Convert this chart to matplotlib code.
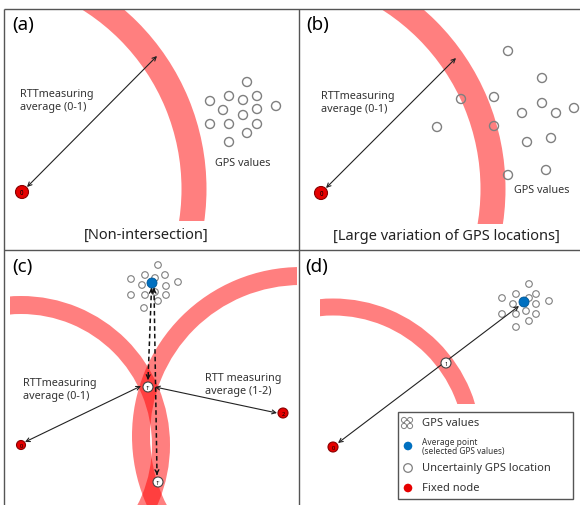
import numpy as np
import matplotlib
matplotlib.use("Agg")
import matplotlib.pyplot as plt
from matplotlib.patches import Circle, Wedge, Rectangle

plt.rcParams['font.family'] = ['Noto Sans', 'DejaVu Sans']

# everything is laid out in pixel units (x right, y down)
W, H = 580, 506

# frame lines: (x0, y0, x1, y1)
frame_lines = [(4, 10, 580, 10), (4, 10, 4, 506), (299, 10, 299, 506), (4, 251, 580, 251)]

panel_tags = ['(a)', '(b)', '(c)', '(d)']
panel_tag_xy = [(12, 25), (306, 25), (12, 267), (305, 267)]

# RTT bands: centre, mid radius, width, clip box (x0, y0, x1, y1)
ring_centres = [(-30, 190), (268, 190), (21, 446), (301, 437), (333, 448)]
ring_radii = [224, 225, 140, 160, 140]
ring_widths = [25, 25, 18, 18, 17]
ring_clips = [(4, 11, 299, 222), (299, 11, 580, 225), (10, 252, 297, 506),
              (10, 252, 297, 506), (320, 252, 580, 405)]

# GPS samples
gps_a = [(247, 83), (210, 102), (229, 97), (243, 101), (257, 97), (276, 107), (223, 111),
         (257, 110), (243, 116), (210, 125), (229, 125), (257, 125), (247, 134), (229, 143)]
gps_b = [(508, 52), (542, 79), (461, 100), (494, 98), (522, 114), (542, 104), (556, 114),
         (574, 109), (437, 128), (494, 127), (527, 143), (551, 139), (508, 176), (546, 171)]
gps_c = [(158, 266), (145, 276), (155, 279), (165, 276), (131, 280), (178, 283), (142, 286),
         (166, 287), (131, 296), (145, 296), (155, 293), (166, 296), (158, 302), (144, 309)]
gps_d = [(529, 285), (502, 299), (516, 295), (529, 299), (536, 295), (536, 305), (549, 302),
         (513, 305), (502, 315), (516, 315), (526, 312), (536, 315), (529, 322), (516, 328)]

avg_points = [(152, 284), (524, 303)]

# nodes: position, radius, label, fill
node_xy = [(22, 193), (321, 194), (21, 446), (283, 414), (333, 448),
           (148, 388), (158, 483), (446, 364)]
node_r = [6.5, 6.5, 4.5, 5, 5, 5, 5, 5]
node_lbl = ['0', '0', '0', '2', '0', "1'", "1'", '1']
node_fill = ['#e60000'] * 5 + ['white'] * 3

# solid two-headed arrows
arrows = [((27, 188), (157, 57)), ((326, 189), (456, 59)),
          ((141, 387), (25, 443)), ((155, 388), (277, 414)),
          ((338, 444), (519, 307))]
# dashed two-headed arrows
dashed = [((151.5, 289), (148, 381)), ((154, 289), (157, 476))]

rtt_text = ['RTTmeasuring\naverage (0-1)', 'RTTmeasuring\naverage (0-1)',
            'RTTmeasuring\naverage (0-1)', 'RTT measuring\naverage (1-2)']
rtt_xy = [(20, 101), (321, 103), (23, 390), (205, 385)]

gps_lbl_xy = [(215, 163), (514, 190)]
captions = ['[Non-intersection]', '[Large variation of GPS locations]']
caption_xy = [(146, 235), (446, 237)]

legend_box = (398, 413, 573, 500)
legend_y = [424, 447, 469, 489]
legend_lbl = ['GPS values', None, 'Uncertainly GPS location', 'Fixed node']

ink = '#333333'

fig = plt.figure(figsize=(W / 100, H / 100), dpi=100)
ax = fig.add_axes([0, 0, 1, 1])
ax.set_xlim(0, W)
ax.set_ylim(H, 0)
ax.axis('off')

for x0, y0, x1, y1 in frame_lines:
    ax.plot([x0, x1], [y0, y1], color='#555555', lw=1.0, solid_capstyle='butt')

for (cx, cy), r, w, (x0, y0, x1, y1) in zip(ring_centres, ring_radii, ring_widths, ring_clips):
    band = Wedge((cx, cy), r + w / 2, 0, 360, width=w, facecolor=(1, 0, 0, 0.5),
                 edgecolor='none', zorder=1)
    ax.add_patch(band)
    box = Rectangle((x0, y0), x1 - x0, y1 - y0, transform=ax.transData)
    band.set_clip_path(box)

for pts, r, lw in [(gps_a, 4.5, 1.0), (gps_b, 4.5, 1.0), (gps_c, 3.3, 0.8), (gps_d, 3.3, 0.8)]:
    for p in pts:
        ax.add_patch(Circle(p, r, facecolor='none', edgecolor='#7f7f7f', lw=lw, zorder=2))

head = dict(arrowstyle='<->', color='#222222', lw=0.8, shrinkA=0, shrinkB=0, mutation_scale=7)
for a, b in arrows:
    ax.annotate('', xy=b, xytext=a, arrowprops=head, zorder=3)

for a, b in dashed:
    ax.plot([a[0], b[0]], [a[1], b[1]], color='#111111', lw=1.1, ls=(0, (3, 2)), zorder=3)
    for p, q in [(a, b), (b, a)]:
        d = np.subtract(p, q)
        d = d / np.hypot(*d)
        ax.annotate('', xy=p, xytext=(p[0] - 4 * d[0], p[1] - 4 * d[1]),
                    arrowprops=dict(arrowstyle='->', color='#111111', lw=0.9,
                                    shrinkA=0, shrinkB=0, mutation_scale=7), zorder=3)

for p in avg_points:
    ax.add_patch(Circle(p, 5, facecolor='#0070c0', edgecolor='#005796', lw=0.6, zorder=4))

for p, r, lbl, fc in zip(node_xy, node_r, node_lbl, node_fill):
    ec = '#8a0000' if fc != 'white' else '#444444'
    ax.add_patch(Circle(p, r, facecolor=fc, edgecolor=ec, lw=0.8, zorder=5))
    ax.text(p[0], p[1] + 0.3, lbl, ha='center', va='center', fontsize=4.5 if r > 6 else 4,
            color='black', fontweight='bold', zorder=6)

for t, (x, y) in zip(panel_tags, panel_tag_xy):
    ax.text(x, y, t, ha='left', va='center', fontsize=13.5, fontweight='bold', color='black')

for t, (x, y) in zip(rtt_text, rtt_xy):
    ax.text(x, y, t, ha='left', va='center', fontsize=7.8, color=ink, linespacing=1.25)

for x, y in gps_lbl_xy:
    ax.text(x, y, 'GPS values', ha='left', va='center', fontsize=7.8, color=ink)

for t, (x, y) in zip(captions, caption_xy):
    ax.text(x, y, t, ha='center', va='center', fontsize=10.5, color='#222222')

# legend
x0, y0, x1, y1 = legend_box
ax.add_patch(Rectangle((x0, y0), x1 - x0, y1 - y0, facecolor='white', edgecolor='#555555',
                       lw=1.0, zorder=7))
ix, tx = 408, 422
for dx, dy in [(-3, -3), (3, -3), (0, 0), (-3, 3), (3, 3)]:
    ax.add_patch(Circle((ix - 1 + dx, legend_y[0] + dy), 2.6, facecolor='white',
                        edgecolor='#7f7f7f', lw=0.7, zorder=8))
ax.add_patch(Circle((ix, legend_y[1]), 4.3, facecolor='#0070c0', edgecolor='none', zorder=8))
ax.add_patch(Circle((ix, legend_y[2]), 4.3, facecolor='white', edgecolor='#7f7f7f', lw=0.9, zorder=8))
ax.add_patch(Circle((ix, legend_y[3]), 4.3, facecolor='#e60000', edgecolor='none', zorder=8))
for lbl, y in zip(legend_lbl, legend_y):
    if lbl:
        ax.text(tx, y, lbl, ha='left', va='center', fontsize=8, color=ink, zorder=9)
ax.text(tx, legend_y[1] - 4, 'Average point', ha='left', va='center', fontsize=6,
        color=ink, zorder=9)
ax.text(tx, legend_y[1] + 5, '(selected GPS values)', ha='left', va='center', fontsize=6,
        color=ink, zorder=9)

fig.savefig('out.png', dpi=100)
